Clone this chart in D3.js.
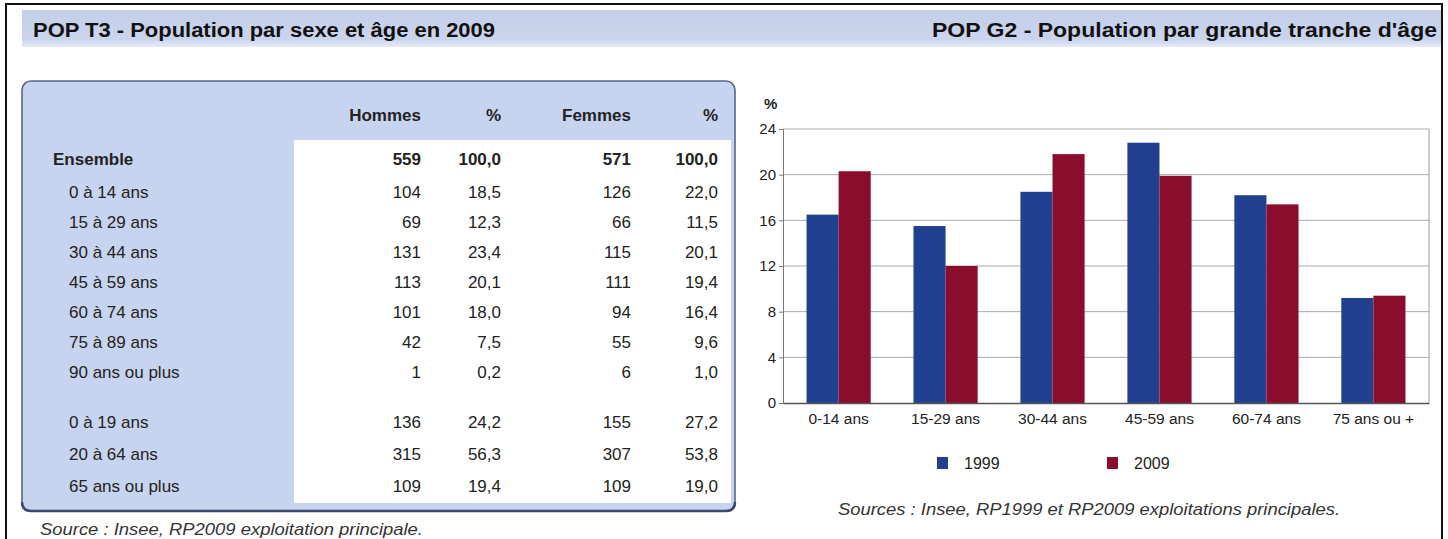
<!DOCTYPE html>
<html>
<head>
<meta charset="utf-8">
<script src="https://cdn.jsdelivr.net/npm/d3@7"></script>
<style>
  html, body { margin: 0; padding: 0; background: #fff; }
  svg { display: block; font-family: "Liberation Sans", Arial, sans-serif; }
</style>
</head>
<body>
<div id="chart"></div>
<script>
(function() {
    "use strict";

    // table T3
    var ageRows = ["Ensemble", "0 à 14 ans", "15 à 29 ans", "30 à 44 ans", "45 à 59 ans",
        "60 à 74 ans", "75 à 89 ans", "90 ans ou plus", "0 à 19 ans", "20 à 64 ans", "65 ans ou plus"];
    var hommes = [559, 104, 69, 131, 113, 101, 42, 1, 136, 315, 109];
    var hommesPct = [100.0, 18.5, 12.3, 23.4, 20.1, 18.0, 7.5, 0.2, 24.2, 56.3, 19.4];
    var femmes = [571, 126, 66, 115, 111, 94, 55, 6, 155, 307, 109];
    var femmesPct = [100.0, 22.0, 11.5, 20.1, 19.4, 16.4, 9.6, 1.0, 27.2, 53.8, 19.0];
    var colHeaders = ["Hommes", "%", "Femmes", "%"];

    // chart G2
    var tranches = ["0-14 ans", "15-29 ans", "30-44 ans", "45-59 ans", "60-74 ans", "75 ans ou +"];
    var years = ["1999", "2009"];
    var pct1999 = [16.5, 15.5, 18.5, 22.8, 18.2, 9.2];
    var pct2009 = [20.3, 12.0, 21.8, 19.9, 17.4, 9.4];
    var yTicks = [0, 4, 8, 12, 16, 20, 24];

    var W = 1448, H = 539;
    var blue = "#21408f", red = "#8b0d2d";
    var fmt1 = function(v) { return d3.format(".1f")(v).replace(".", ","); };

    var svg = d3.select("#chart").append("svg")
        .attr("width", W).attr("height", H);

    var defs = svg.append("defs");
    var grad = defs.append("linearGradient").attr("id", "band")
        .attr("x1", 0).attr("y1", 0).attr("x2", 0).attr("y2", 1);
    grad.append("stop").attr("offset", "0%").attr("stop-color", "#c3cfe9");
    grad.append("stop").attr("offset", "80%").attr("stop-color", "#cad5ec");
    grad.append("stop").attr("offset", "100%").attr("stop-color", "#e4eaf6");

    // outer frame
    svg.append("rect").attr("x", 6).attr("y", 4).attr("width", 1436).attr("height", 545)
        .attr("fill", "none").attr("stroke", "#111").attr("stroke-width", 2);

    // title band
    svg.append("rect").attr("x", 22).attr("y", 10).attr("width", 1419).attr("height", 37)
        .attr("fill", "url(#band)");
    svg.append("text").attr("x", 33).attr("y", 37)
        .attr("font-size", 20).attr("font-weight", "bold").attr("fill", "#111")
        .attr("textLength", 462).attr("lengthAdjust", "spacingAndGlyphs")
        .text("POP T3 - Population par sexe et âge en 2009");
    svg.append("text").attr("x", 1437).attr("y", 37).attr("text-anchor", "end")
        .attr("font-size", 20).attr("font-weight", "bold").attr("fill", "#111")
        .attr("textLength", 505).attr("lengthAdjust", "spacingAndGlyphs")
        .text("POP G2 - Population par grande tranche d'âge");

    // ---- table ----
    var t = svg.append("g");
    t.append("rect").attr("x", 22).attr("y", 81).attr("width", 713).attr("height", 430)
        .attr("rx", 9).attr("fill", "#c7d4ef").attr("stroke", "#56658c").attr("stroke-width", 1.6);
    t.append("path")
        .attr("d", "M22,502 Q22,511 31,511 L726,511 Q735,511 735,502")
        .attr("fill", "none").attr("stroke", "#3b4870").attr("stroke-width", 2.4);
    t.append("rect").attr("x", 294).attr("y", 140).attr("width", 437).attr("height", 363)
        .attr("fill", "#fff");

    function rowY(i) {
        if (i === 0) return 159;
        if (i <= 7) return 192 + (i - 1) * 30;
        return 422 + (i - 8) * 32;
    }
    var colRight = [421, 501, 631, 718];
    var cols = [hommes, hommesPct, femmes, femmesPct];

    t.selectAll("text.hdr").data(colHeaders).join("text")
        .attr("class", "hdr")
        .attr("x", function(d, i) { return colRight[i]; })
        .attr("y", 121).attr("text-anchor", "end")
        .attr("font-size", 17).attr("font-weight", "bold").attr("fill", "#222")
        .text(function(d) { return d; });

    t.selectAll("text.lab").data(ageRows).join("text")
        .attr("class", "lab")
        .attr("x", function(d, i) { return i === 0 ? 53 : 69; })
        .attr("y", function(d, i) { return rowY(i) + 6; })
        .attr("font-size", 17).attr("fill", "#222")
        .attr("font-weight", function(d, i) { return i === 0 ? "bold" : "normal"; })
        .text(function(d) { return d; });

    cols.forEach(function(col, c) {
        t.append("g").selectAll("text").data(col).join("text")
            .attr("x", colRight[c])
            .attr("y", function(d, i) { return rowY(i) + 6; })
            .attr("text-anchor", "end")
            .attr("font-size", 17).attr("fill", "#222")
            .attr("font-weight", function(d, i) { return i === 0 ? "bold" : "normal"; })
            .text(function(d) { return c % 2 === 1 ? fmt1(d) : d; });
    });

    svg.append("text").attr("x", 40).attr("y", 535)
        .attr("font-size", 17).attr("font-style", "italic").attr("fill", "#333")
        .attr("textLength", 383).attr("lengthAdjust", "spacingAndGlyphs")
        .text("Source : Insee, RP2009 exploitation principale.");

    // ---- bar chart ----
    var x0 = d3.scaleBand().domain(tranches).range([783, 1429])
        .paddingInner(0.4).paddingOuter(0.22);
    var x1 = d3.scaleBand().domain(years).range([0, x0.bandwidth()]);
    var y = d3.scaleLinear().domain([0, 24]).range([403, 129]);
    var color = d3.scaleOrdinal().domain(years).range([blue, red]);

    var ch = svg.append("g");

    // gridlines
    ch.append("g").selectAll("line").data(yTicks.filter(function(v) { return v > 0; })).join("line")
        .attr("x1", 783).attr("x2", 1429)
        .attr("y1", function(d) { return y(d); }).attr("y2", function(d) { return y(d); })
        .attr("stroke", "#a9a9a9").attr("stroke-width", 1);
    ch.append("line").attr("x1", 1429).attr("x2", 1429).attr("y1", y(24)).attr("y2", y(0))
        .attr("stroke", "#9a9a9a");

    var data = tranches.map(function(tr, i) {
        return { tranche: tr, values: [{ year: "1999", v: pct1999[i] }, { year: "2009", v: pct2009[i] }] };
    });

    ch.append("g").selectAll("g").data(data).join("g")
        .attr("transform", function(d) { return "translate(" + x0(d.tranche) + ",0)"; })
        .selectAll("rect").data(function(d) { return d.values; }).join("rect")
        .attr("x", function(d) { return x1(d.year); })
        .attr("width", x1.bandwidth())
        .attr("y", function(d) { return y(d.v); })
        .attr("height", function(d) { return y(0) - y(d.v); })
        .attr("fill", function(d) { return color(d.year); });

    var yAxis = ch.append("g").attr("transform", "translate(783,0)")
        .call(d3.axisLeft(y).tickValues(yTicks).tickSize(4).tickPadding(3));
    yAxis.select(".domain").attr("stroke", "#777");
    yAxis.selectAll(".tick line").attr("stroke", "#777");
    yAxis.selectAll("text").attr("font-size", 15).attr("fill", "#222")
        .attr("font-family", "Liberation Sans, Arial, sans-serif");

    var xAxis = ch.append("g").attr("transform", "translate(0," + y(0) + ")")
        .call(d3.axisBottom(x0).tickSize(0).tickPadding(10));
    xAxis.select(".domain").attr("stroke", "#555").attr("stroke-width", 1.3);
    xAxis.selectAll("text").attr("font-size", 15.5).attr("fill", "#222")
        .attr("font-family", "Liberation Sans, Arial, sans-serif");

    ch.append("text").attr("x", 764).attr("y", 109)
        .attr("font-size", 15).attr("font-weight", "bold").attr("fill", "#222").text("%");

    // legend
    var legX = [937, 1107];
    var leg = ch.append("g").selectAll("g").data(years).join("g")
        .attr("transform", function(d, i) { return "translate(" + legX[i] + ",457)"; });
    leg.append("rect").attr("width", 11).attr("height", 12)
        .attr("fill", function(d) { return color(d); });
    leg.append("text").attr("x", 27).attr("y", 12)
        .attr("font-size", 16).attr("fill", "#222").text(function(d) { return d; });

    ch.append("text").attr("x", 1089).attr("y", 515).attr("text-anchor", "middle")
        .attr("font-size", 17).attr("font-style", "italic").attr("fill", "#333")
        .attr("textLength", 502).attr("lengthAdjust", "spacingAndGlyphs")
        .text("Sources : Insee, RP1999 et RP2009 exploitations principales.");
})();
</script>
</body>
</html>
